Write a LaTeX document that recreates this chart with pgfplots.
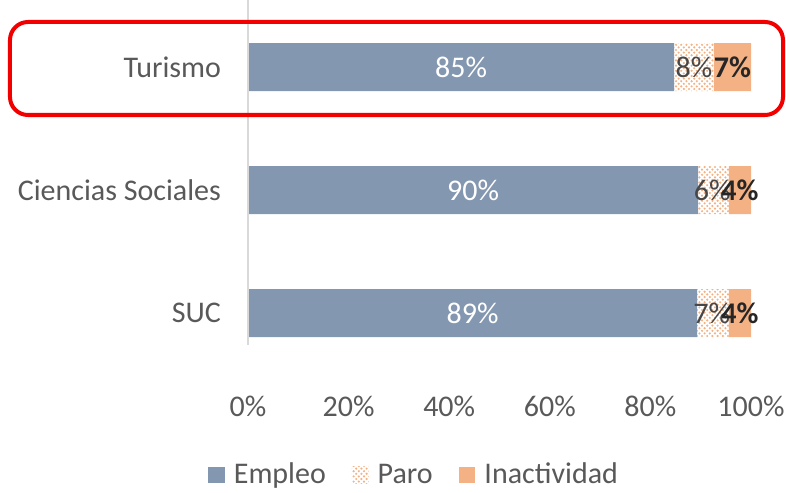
\documentclass[border=0pt]{standalone}
\usepackage{fontspec}
\setmainfont{Carlito}
\usepackage{pgfplots}
\pgfplotsset{compat=1.18}
\usetikzlibrary{patterns}
\definecolor{cemp}{HTML}{8497B0}
\definecolor{cpar}{HTML}{F4B183}
\definecolor{cina}{HTML}{F4B183}
\definecolor{ctxt}{HTML}{595959}
\definecolor{cax}{HTML}{D9D9D9}
\definecolor{cbox}{HTML}{F20000}
% staggered dots, a bit denser than crosshatch dots
\pgfdeclarepatternformonly{pdots}{\pgfqpoint{-1pt}{-1pt}}{\pgfqpoint{3.5pt}{3.5pt}}{\pgfqpoint{2.6pt}{2.6pt}}{%
  \pgfpathcircle{\pgfqpoint{0pt}{0pt}}{0.6pt}
  \pgfpathcircle{\pgfqpoint{1.3pt}{1.3pt}}{0.6pt}
  \pgfusepath{fill}}
\newcommand{\lfont}{\fontsize{15pt}{18pt}\selectfont}
\tikzset{
  lblw/.style={font=\lfont,text=white},
  lblp/.style={font=\lfont,text=ctxt!80!black},
  lbli/.style={font=\lfont\bfseries,text=black!85},
}
\begin{document}
\begin{tikzpicture}
\begin{axis}[
  at={(0,0)}, anchor=north west, scale only axis,
  width=251.5pt, height=172.5pt,
  xbar stacked, bar width=24pt,
  xmin=0, xmax=100, ymin=-0.26, ymax=2.545,
  ytick={0,1,2}, yticklabels={SUC,Ciencias Sociales,Turismo},
  xtick={0,20,...,100},
  xticklabel={\pgfmathprintnumber{\tick}\%},
  /pgf/number format/assume math mode=true,
  axis line style={draw=none}, tick style={draw=none},
  major tick length=0pt,
  ticklabel style={font=\lfont,text=ctxt},
  xticklabel style={anchor=north,yshift=-22pt},
  yticklabel style={anchor=east,xshift=-10pt},
  legend style={at={(0.332,-0.377)},anchor=center,draw=none,
    legend columns=3,font=\lfont,text=ctxt,
    /tikz/every odd column/.append style={column sep=2.5pt},
    /tikz/every even column/.append style={column sep=11pt}},
  legend image code/.code={\path[#1] (0pt,-4.2pt) rectangle (8.4pt,4.2pt);},
]
\addplot[draw=none,fill=cemp] coordinates {(89.3,0) (89.5,1) (84.7,2)};
\addplot[draw=none,pattern=pdots,pattern color=cpar] coordinates {(6.3,0) (6.1,1) (7.9,2)};
\addplot[draw=none,fill=cina] coordinates {(4.4,0) (4.4,1) (7.4,2)};
\legend{Empleo,Paro,Inactividad}
\coordinate (a0) at (rel axis cs:0,0);
\coordinate (a1) at (rel axis cs:0,1);
\coordinate (t1) at (axis cs:42.35,2);
\coordinate (t2) at (axis cs:88.65,2);
\coordinate (t3) at (axis cs:96.3,2);
\coordinate (c1) at (axis cs:44.75,1);
\coordinate (c2) at (axis cs:92.3,1);
\coordinate (c3) at (axis cs:97.8,1);
\coordinate (s1) at (axis cs:44.65,0);
\coordinate (s2) at (axis cs:92.2,0);
\coordinate (s3) at (axis cs:97.8,0);
\end{axis}
\draw[cax,line width=0.8pt] (a0) -- (a1);
\node[lblw] at (t1) {85\%};
\node[lblp] at (t2) {8\%};
\node[lbli] at (t3) {7\%};
\node[lblw] at (c1) {90\%};
\node[lblp] at (c2) {6\%};
\node[lbli] at (c3) {4\%};
\node[lblw] at (s1) {89\%};
\node[lblp] at (s2) {7\%};
\node[lbli] at (s3) {4\%};
\draw[cbox,line width=2pt,rounded corners=9pt] (-119pt,-11pt) rectangle (267.5pt,-57.5pt);
\pgfresetboundingbox
\path (-124pt,0pt) rectangle (269pt,-246pt);
\end{tikzpicture}
\end{document}
